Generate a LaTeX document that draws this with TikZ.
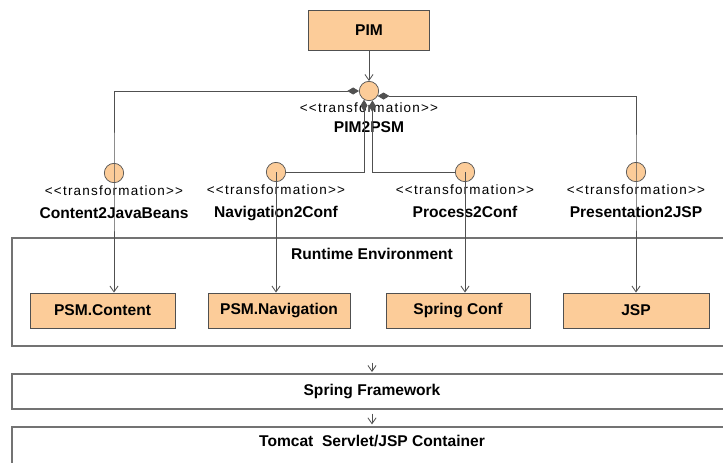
\documentclass[tikz,border=0pt]{standalone}
\usepackage{fontspec}
\setmainfont{Liberation Sans}
\newfontfamily\stereofont{Liberation Sans}[Ligatures=TeXOff,LetterSpace=9]
\usetikzlibrary{arrows.meta,positioning}
\definecolor{modelfill}{RGB}{252,204,153}
\definecolor{linegray}{RGB}{80,80,80}
\definecolor{layergray}{RGB}{115,115,115}
\newcommand{\stereotype}[1]{{\stereofont\mdseries\fontsize{11.5}{13}\selectfont <<#1>>}}

\begin{document}
\begin{tikzpicture}[x=0.03cm,y=-0.03cm,
  every node/.style={font=\bfseries\fontsize{13.3}{16}\selectfont},
  model/.style={draw=linegray,fill=modelfill,line width=0.8pt,minimum height=1.05cm,inner sep=0pt},
  trafo/.style={circle,draw=linegray,fill=modelfill,line width=0.6pt,minimum size=0.58cm,inner sep=0pt},
  trafolabel/.style={align=center,inner sep=0pt,font=\bfseries\fontsize{13.3}{19.5}\selectfont},
  layer/.style={draw=layergray,line width=1.1pt,minimum width=21.6cm,inner sep=0pt},
  flow/.style={draw=linegray,line width=0.7pt,-{Straight Barb[length=5pt,width=7pt]}},
  link/.style={draw=linegray,line width=0.7pt,{Diamond[length=10pt,width=6pt]}-},
  compo/.style={draw=linegray,line width=0.7pt,{Diamond[length=10pt,width=6pt]}-{Straight Barb[length=5pt,width=7pt]}},
]
\useasboundingbox (0,0) rectangle (723,462);
% platform layers
\node[layer,minimum height=3.24cm] (runtime) at (372,292) {};
\node (runtimetitle) at (372,254) {Runtime Environment};
\node[layer,minimum height=1.05cm] (spring) at (372,391.5) {Spring Framework};
\node[layer,minimum height=2.19cm] (tomcat) at (372,463.5) {};
\node (tomcattitle) at (372,441) {Tomcat\ \ Servlet/JSP Container};
% models
\node[model,minimum width=3.63cm,minimum height=1.2cm] (pim) at (369,30) {PIM};
\node[model,minimum width=4.35cm] (content) at (102.5,310.5) {PSM.Content};
\node[model,minimum width=4.26cm] (navigation) at (279,310.5) {PSM.Navigation};
\node[model,minimum width=4.32cm] (springconf) at (458,310.5) {Spring Conf};
\node[model,minimum width=4.38cm] (jsp) at (636,310.5) {JSP};
% transformations
\node[trafo] (pim2psm) at (369,91) {};
\node[trafo] (c2jb) at (114,173) {};
\node[trafo] (nav2conf) at (276,172) {};
\node[trafo] (proc2conf) at (465,172) {};
\node[trafo] (pres2jsp) at (636,172) {};
\node[trafolabel,below=0.05cm of pim2psm,font=\bfseries\fontsize{13.3}{16.5}\selectfont] (pim2psmlabel) {\stereotype{transformation}\\PIM2PSM};
\node[trafolabel,below=0.08cm of c2jb] (c2jblabel) {\stereotype{transformation}\\Content2JavaBeans};
\node[trafolabel,below=0.08cm of nav2conf] (nav2conflabel) {\stereotype{transformation}\\Navigation2Conf};
\node[trafolabel,below=0.08cm of proc2conf] (proc2conflabel) {\stereotype{transformation}\\Process2Conf};
\node[trafolabel,below=0.08cm of pres2jsp] (pres2jsplabel) {\stereotype{transformation}\\Presentation2JSP};
% connectors
\draw[flow] (pim) -- (pim2psm);
\draw[compo] (pim2psm.west) -| (c2jb.center) -- (c2jb |- content.north);
\draw[link] (pim2psm.240) |- (nav2conf.east);
\draw[flow] (nav2conf.center) -- (nav2conf |- navigation.north);
\draw[link] (pim2psm.290) |- (proc2conf.west);
\draw[flow] (proc2conf.center) -- (proc2conf |- springconf.north);
\draw[compo] (pim2psm.-30) -| (pres2jsp.center) -- (pres2jsp |- jsp.north);
\draw[flow,shorten <=0.48cm,shorten >=0.04cm] (runtime) -- (spring);
\draw[flow,shorten <=0.12cm,shorten >=0.06cm] (spring) -- (tomcat);
\end{tikzpicture}
\end{document}
